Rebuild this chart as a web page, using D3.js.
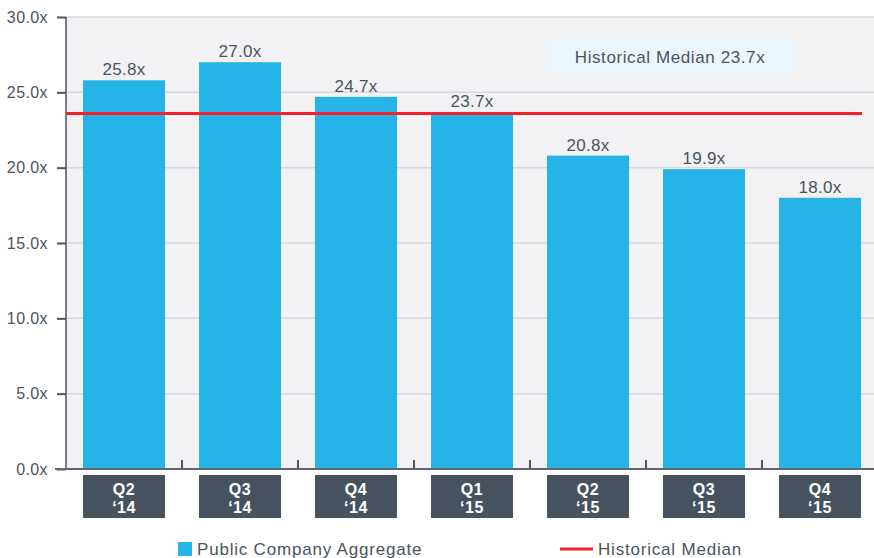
<!DOCTYPE html>
<html>
<head>
<meta charset="utf-8">
<script src="https://cdn.jsdelivr.net/npm/d3@7/dist/d3.min.js"></script>
<style>
  body { margin: 0; background: #fff; }
  svg text { font-family: "Liberation Sans", Arial, sans-serif; }
</style>
</head>
<body>
<div id="chart"></div>
<script>
// quarters + P/E multiples
const quarters = ["Q2", "Q3", "Q4", "Q1", "Q2", "Q3", "Q4"];
const years = ["\u201814", "\u201814", "\u201814", "\u201815", "\u201815", "\u201815", "\u201815"];
const values = [25.8, 27.0, 24.7, 23.7, 20.8, 19.9, 18.0];
const historicalMedian = 23.7;
const yTicks = [0, 5, 10, 15, 20, 25, 30];

const width = 874, height = 558;
const textCol = "#4a5560";

const svg = d3.select("#chart").append("svg")
    .attr("width", width)
    .attr("height", height);

const plot = {left: 66, right: 874, top: 17, bottom: 469};

const x = d3.scaleBand()
    .domain(d3.range(values.length))
    .range([plot.left, plot.left + 7 * 116])
    .paddingInner(0.293)
    .paddingOuter(0.1466);

const y = d3.scaleLinear()
    .domain([0, 30])
    .range([plot.bottom, plot.top]);

// plot background
svg.append("rect")
    .attr("x", plot.left).attr("y", plot.top)
    .attr("width", plot.right - plot.left)
    .attr("height", plot.bottom - plot.top)
    .attr("fill", "#f2f2f4");

// gridlines
svg.append("g")
    .selectAll("line")
    .data(yTicks.filter(d => d > 0))
    .enter().append("line")
    .attr("x1", plot.left).attr("x2", plot.right)
    .attr("y1", d => y(d)).attr("y2", d => y(d))
    .attr("stroke", "#d8d8dc")
    .attr("stroke-width", 1.5);

// y axis
const yAxis = svg.append("g")
    .attr("transform", `translate(${plot.left},0)`)
    .call(d3.axisLeft(y).tickValues(yTicks).tickSize(9).tickPadding(9)
        .tickFormat(d => d3.format(".1f")(d) + "x"));
yAxis.select(".domain").attr("stroke", textCol).attr("stroke-width", 1.5)
    .attr("d", `M0,${plot.top}V${plot.bottom}`);
yAxis.selectAll(".tick line").attr("stroke", textCol).attr("stroke-width", 2);
yAxis.selectAll(".tick text")
    .attr("fill", textCol)
    .style("font-size", "16px")
    .style("letter-spacing", "0.4px");

// bars
svg.append("g")
    .selectAll("rect")
    .data(values)
    .enter().append("rect")
    .attr("x", (d, i) => x(i))
    .attr("y", d => y(d))
    .attr("width", x.bandwidth())
    .attr("height", d => y(0) - y(d))
    .attr("fill", "#26b4e8");

// value labels
svg.append("g")
    .selectAll("text")
    .data(values)
    .enter().append("text")
    .attr("x", (d, i) => x(i) + x.bandwidth() / 2)
    .attr("y", d => y(d) - 5)
    .attr("text-anchor", "middle")
    .attr("fill", textCol)
    .style("font-size", "17px")
    .style("letter-spacing", "0.3px")
    .text(d => d3.format(".1f")(d) + "x");

// x axis line + ticks between bands
svg.append("line")
    .attr("x1", 55).attr("x2", plot.right)
    .attr("y1", plot.bottom).attr("y2", plot.bottom)
    .attr("stroke", "#5d6770").attr("stroke-width", 2);

svg.append("g")
    .selectAll("line")
    .data(d3.range(1, values.length))
    .enter().append("line")
    .attr("x1", i => x(i) - x.step() * x.paddingInner() / 2)
    .attr("x2", i => x(i) - x.step() * x.paddingInner() / 2)
    .attr("y1", plot.bottom - 9).attr("y2", plot.bottom)
    .attr("stroke", textCol).attr("stroke-width", 2);

// category boxes
const cat = svg.append("g")
    .selectAll("g")
    .data(quarters)
    .enter().append("g")
    .attr("transform", (d, i) => `translate(${x(i)},475)`);
cat.append("rect")
    .attr("width", x.bandwidth())
    .attr("height", 43)
    .attr("fill", "#46535e");
cat.append("text")
    .attr("x", x.bandwidth() / 2).attr("y", 20)
    .attr("text-anchor", "middle")
    .attr("fill", "#fff")
    .style("font-size", "16px").style("font-weight", "bold")
    .style("letter-spacing", "0.5px")
    .text(d => d);
cat.append("text")
    .attr("x", x.bandwidth() / 2).attr("y", 38)
    .attr("text-anchor", "middle")
    .attr("fill", "#fff")
    .style("font-size", "16px").style("font-weight", "bold")
    .style("letter-spacing", "0.5px")
    .text((d, i) => years[i]);

// historical median line
svg.append("line")
    .attr("x1", plot.left).attr("x2", x(values.length - 1) + x.bandwidth() + 1)
    .attr("y1", y(historicalMedian) + 1.5).attr("y2", y(historicalMedian) + 1.5)
    .attr("stroke", "#f0202c").attr("stroke-width", 3);

// annotation box
svg.append("rect")
    .attr("x", 548).attr("y", 39)
    .attr("width", 245).attr("height", 34)
    .attr("fill", "#eaf5fd");
svg.append("text")
    .attr("x", 670).attr("y", 63)
    .attr("text-anchor", "middle")
    .attr("fill", textCol)
    .style("font-size", "17px")
    .style("letter-spacing", "0.6px")
    .text("Historical Median " + d3.format(".1f")(historicalMedian) + "x");

// legend
const legend = svg.append("g");
legend.append("rect")
    .attr("x", 178).attr("y", 542)
    .attr("width", 14).attr("height", 14)
    .attr("fill", "#26b4e8");
legend.append("text")
    .attr("x", 197).attr("y", 555)
    .attr("fill", textCol)
    .style("font-size", "17px")
    .style("letter-spacing", "0.8px")
    .text("Public Company Aggregate");
legend.append("line")
    .attr("x1", 560).attr("x2", 593)
    .attr("y1", 549).attr("y2", 549)
    .attr("stroke", "#f0202c").attr("stroke-width", 3);
legend.append("text")
    .attr("x", 598).attr("y", 555)
    .attr("fill", textCol)
    .style("font-size", "17px")
    .style("letter-spacing", "0.8px")
    .text("Historical Median");
</script>
</body>
</html>
